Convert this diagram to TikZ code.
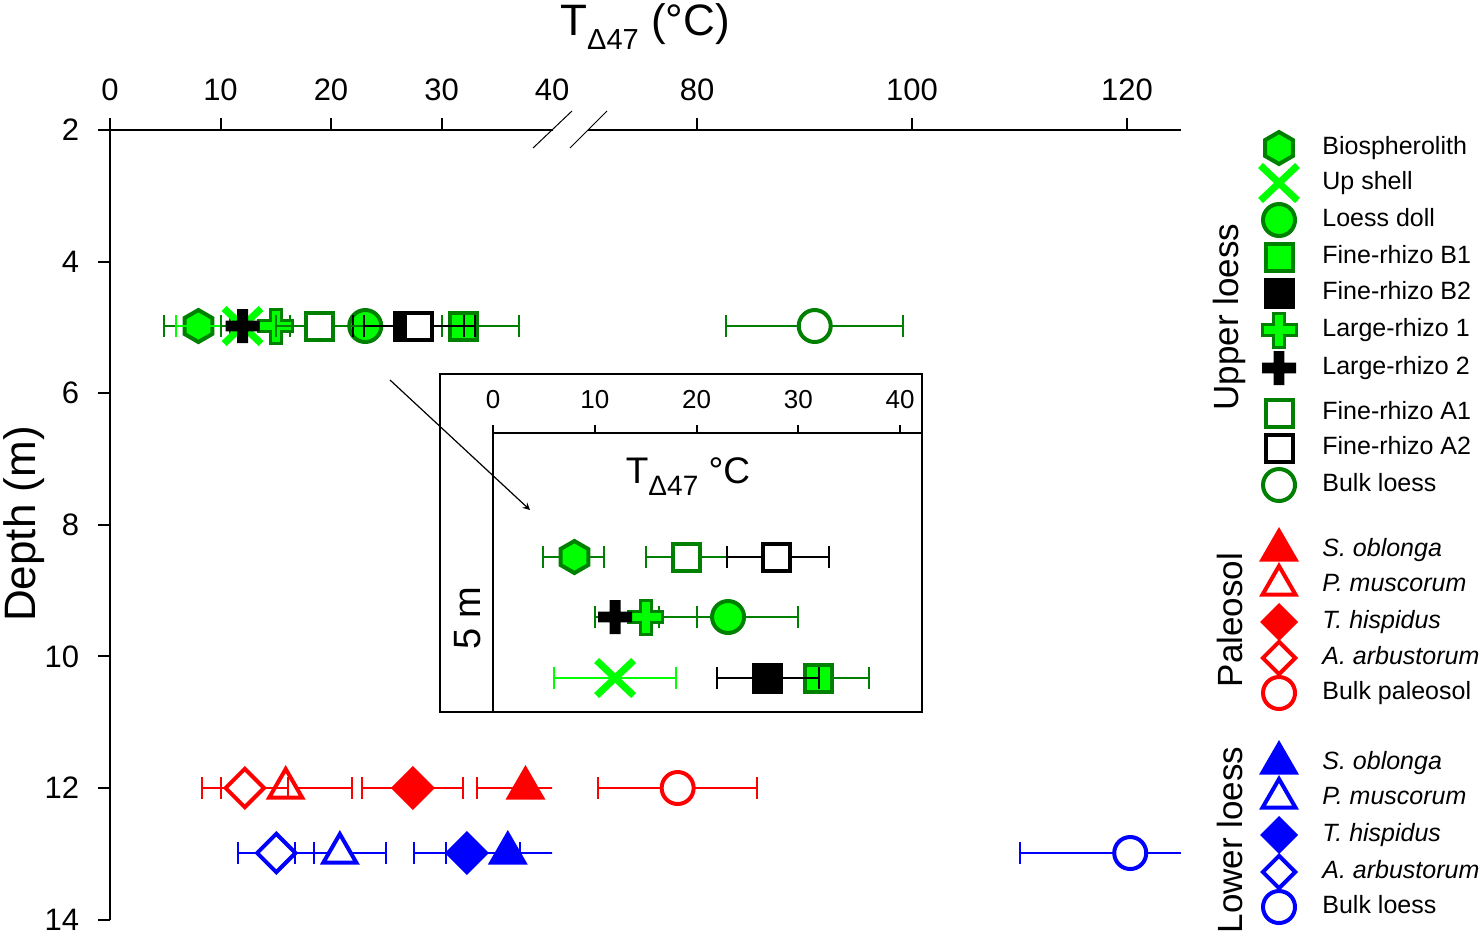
\documentclass[tikz,border=0pt]{standalone}
\usepackage{fontspec}
\setmainfont{Liberation Sans}
\usetikzlibrary{shapes.geometric, shapes.misc, arrows, positioning}
\definecolor{loessfill}{RGB}{0, 255, 0}
\definecolor{loessedge}{RGB}{0, 128, 0}
\definecolor{paleored}{RGB}{255, 0, 0}
\definecolor{lowerblue}{RGB}{0, 0, 255}
\tikzstyle{axisline} = [line width=1pt, black]
\tikzstyle{errline} = [line width=1pt]
\tikzstyle{symb} = [inner sep=0pt, line width=2pt]
\tikzstyle{hexa} = [symb, regular polygon, regular polygon sides=6, shape border rotate=30, minimum size=16pt, draw=loessedge, fill=loessfill]
\tikzstyle{disc} = [symb, circle, minimum size=16pt]
\tikzstyle{sqr} = [symb, rectangle, minimum size=13.5pt]
\tikzstyle{dmd} = [symb, diamond, minimum size=20pt]
\tikzstyle{tri} = [symb, regular polygon, regular polygon sides=3, minimum size=19pt]
\tikzstyle{upx} = [cross out, draw=loessfill, line width=3.5pt, minimum width=15pt, minimum height=14pt, inner sep=0pt]
\tikzstyle{legtext} = [anchor=west, text height=1.6ex, text depth=0.3ex, inner sep=0pt]
\tikzstyle{grouplabel} = [rotate=90, font=\fontsize{17.5}{20}\selectfont]
\tikzset{pluss/.pic={\path[pic actions] (-8.5pt,-2.7pt) -- (-2.7pt,-2.7pt) -- (-2.7pt,-8.5pt) -- (2.7pt,-8.5pt) -- (2.7pt,-2.7pt) -- (8.5pt,-2.7pt) -- (8.5pt,2.7pt) -- (2.7pt,2.7pt) -- (2.7pt,8.5pt) -- (-2.7pt,8.5pt) -- (-2.7pt,2.7pt) -- (-8.5pt,2.7pt) -- cycle;}}
% error bar: colour, low, high, row (px)
\newcommand{\errbar}[4]{\draw[errline, #1] (#2,#4) -- (#3,#4) (#2,#4-11) -- (#2,#4+11) (#3,#4-11) -- (#3,#4+11);}
\newcommand{\tickfont}{\fontsize{15.5}{18}\selectfont}

\begin{document}
\begin{tikzpicture}[x=0.5pt, y=-0.5pt, font=\fontsize{12.5}{15}\selectfont]
\useasboundingbox (0,0) rectangle (1481,933);

% Axes
\draw[axisline] (110,118) -- (110,920);
\draw[axisline] (110,130) -- (553,130);
\draw[axisline] (588,130) -- (1181,130);
\draw[line width=0.5pt] (533,148) -- (572,111) (570,148) -- (607,111);
\foreach \d in {2,4,...,14}
  \draw[axisline] (110,{130+65.8*(\d-2)}) -- (98,{130+65.8*(\d-2)}) node[anchor=east, inner sep=0pt, xshift=-9pt, font=\tickfont] (dtick\d) {\d};
\node[rotate=90, font=\fontsize{22}{26}\selectfont] (depthlabel) at (24,524) {Depth (m)};
\node[anchor=base, font=\fontsize{22}{26}\selectfont] (ttitle) at (645,35) {T\raisebox{-7pt}{\fontsize{14.5}{15}\selectfont Δ47} (°C)};

% Left part, 0 to 40
\begin{scope}[shift={(110,0)}, x=5.525pt]
\foreach \t in {0,10,20,30}
  \draw[axisline] (\t,130) -- (\t,118);
\foreach \t in {0,10,20,30,40}
  \node[anchor=base, font=\tickfont] (ttick\t) at (\t,100) {\t};
\clip (0,100) rectangle (40,933);
% Upper loess
\errbar{loessedge}{4.9}{10.9}{326}
\node[hexa] (bio) at (8,326) {};
\errbar{loessfill}{6}{18}{326}
\node[upx] (upshell) at (12,326) {};
\errbar{loessedge}{16.3}{30}{326}
\node[disc, draw=loessedge, fill=loessfill] (doll) at (23.1,326) {};
\errbar{loessedge}{27}{37}{326}
\node[sqr, draw=loessedge, fill=loessfill] (frbone) at (32,326) {};
\errbar{black}{22}{32}{326}
\node[sqr, draw=black, fill=black] (frbtwo) at (27,326) {};
\errbar{loessedge}{10}{20}{326}
\pic[draw=loessedge, fill=loessfill, line width=1.5pt] at (15,326) {pluss};
\errbar{black}{11.6}{12.4}{326}
\pic[fill=black] at (12,326) {pluss};
\errbar{loessedge}{15}{23}{326}
\node[sqr, draw=loessedge, fill=white] (fraone) at (19,326) {};
\errbar{black}{23}{33}{326}
\node[sqr, draw=black, fill=white] (fratwo) at (27.9,326) {};
% Paleosol
\errbar{paleored}{33.2}{42}{788}
\node[tri, draw=paleored, fill=paleored] (sopal) at (37.6,788) {};
\errbar{paleored}{10}{21.9}{788}
\node[tri, draw=paleored, fill=white] (pmpal) at (15.9,788) {};
\errbar{paleored}{22.8}{31.9}{788}
\node[dmd, draw=paleored, fill=paleored] (thpal) at (27.4,788) {};
\errbar{paleored}{8.3}{16.1}{788}
\node[dmd, draw=paleored, fill=white] (aapal) at (12.2,788) {};
% Lower loess
\errbar{lowerblue}{30.4}{41.6}{853}
\node[tri, draw=lowerblue, fill=lowerblue] (solow) at (36,853) {};
\errbar{lowerblue}{16.7}{25}{853}
\node[tri, draw=lowerblue, fill=white] (pmlow) at (20.8,853) {};
\errbar{lowerblue}{27.5}{37.1}{853}
\node[dmd, draw=lowerblue, fill=lowerblue] (thlow) at (32.3,853) {};
\errbar{lowerblue}{11.6}{18.5}{853}
\node[dmd, draw=lowerblue, fill=white] (aalow) at (15.05,853) {};
\end{scope}

% Right part, 70 to 125
\begin{scope}[shift={(-163,0)}, x=5.375pt]
\foreach \t in {80,100,120} {
  \draw[axisline] (\t,130) -- (\t,118);
  \node[anchor=base, font=\tickfont] (ttick\t) at (\t,100) {\t};
}
\clip (69,100) rectangle (125,933);
\errbar{loessedge}{82.7}{99.2}{326}
\node[disc, draw=loessedge, fill=white] (bulkup) at (90.95,326) {};
\errbar{paleored}{70.8}{85.6}{788}
\node[disc, draw=paleored, fill=white] (bulkpal) at (78.2,788) {};
\errbar{lowerblue}{110}{130}{853}
\node[disc, draw=lowerblue, fill=white] (bulklow) at (120.3,853) {};
\end{scope}

% Inset at 5 m
\draw[line width=1pt, fill=white] (440,374) rectangle (922,712);
\coordinate (zoomfrom) at (390,380);
\coordinate (zoomto) at (530,510);
\draw[->, >=stealth, line width=0.6pt] (zoomfrom) -- (zoomto);
\draw[axisline] (493,425) -- (493,712);
\draw[axisline] (493,433) -- (922,433);
\node[anchor=base, font=\fontsize{18.5}{22}\selectfont] (insettitle) at (688,483) {T\raisebox{-6pt}{\fontsize{14}{14}\selectfont Δ47} °C};
\node[rotate=90, font=\fontsize{19}{22}\selectfont] (fivem) at (468,618) {5 m};
\begin{scope}[shift={(493,0)}, x=5.0875pt]
\foreach \t in {0,10,20,30,40} {
  \draw[axisline] (\t,433) -- (\t,425);
  \node[anchor=base, font=\fontsize{13}{16}\selectfont] (itick\t) at (\t,408) {\t};
}
\errbar{loessedge}{4.9}{10.9}{557}
\node[hexa] (bioin) at (8,557) {};
\errbar{loessfill}{6}{18}{678}
\node[upx] (upshellin) at (12,678) {};
\errbar{loessedge}{16.3}{30}{617}
\node[disc, draw=loessedge, fill=loessfill] (dollin) at (23.1,617) {};
\errbar{loessedge}{27}{37}{678}
\node[sqr, draw=loessedge, fill=loessfill] (frbonein) at (32,678) {};
\errbar{black}{22}{32}{678}
\node[sqr, draw=black, fill=black] (frbtwoin) at (27,678) {};
\errbar{loessedge}{10}{20}{617}
\pic[draw=loessedge, fill=loessfill, line width=1.5pt] at (15,617) {pluss};
\errbar{black}{11.6}{12.4}{617}
\pic[fill=black] at (12,617) {pluss};
\errbar{loessedge}{15}{23}{557}
\node[sqr, draw=loessedge, fill=white] (fraonein) at (19,557) {};
\errbar{black}{23}{33}{557}
\node[sqr, draw=black, fill=white] (fratwoin) at (27.9,557) {};
\end{scope}

% Legend
\node[grouplabel] (upperlab) at (1229,317) {Upper loess};
\node[grouplabel] (paleolab) at (1230,620) {Paleosol};
\node[grouplabel] (lowerlab) at (1230,840) {Lower loess};
\node[hexa] (lgbio) at (1279,148) {};
\node[legtext] (tbio) at (1322,148) {Biospherolith};
\node[upx] (lgup) at (1279,183) {};
\node[legtext] (tup) at (1322,183) {Up shell};
\node[disc, draw=loessedge, fill=loessfill] (lgdoll) at (1279,220) {};
\node[legtext] (tdoll) at (1322,220) {Loess doll};
\node[sqr, draw=loessedge, fill=loessfill] (lgbone) at (1279,257) {};
\node[legtext] (tbone) at (1322,257) {Fine-rhizo B1};
\node[sqr, draw=black, fill=black] (lgbtwo) at (1279,293) {};
\node[legtext] (tbtwo) at (1322,293) {Fine-rhizo B2};
\pic[draw=loessedge, fill=loessfill, line width=1.5pt] at (1279,330) {pluss};
\node[legtext] (tlone) at (1322,330) {Large-rhizo 1};
\pic[fill=black] at (1279,368) {pluss};
\node[legtext] (tltwo) at (1322,368) {Large-rhizo 2};
\node[sqr, draw=loessedge, fill=white] (lgaone) at (1279,413) {};
\node[legtext] (taone) at (1322,413) {Fine-rhizo A1};
\node[sqr, draw=black, fill=white] (lgatwo) at (1279,448) {};
\node[legtext] (tatwo) at (1322,448) {Fine-rhizo A2};
\node[disc, draw=loessedge, fill=white] (lgbulkup) at (1279,485) {};
\node[legtext] (tbulkup) at (1322,485) {Bulk loess};

\node[tri, draw=paleored, fill=paleored] (lgsopal) at (1279,550) {};
\node[legtext] (tsopal) at (1322,550) {\textit{S. oblonga}};
\node[tri, draw=paleored, fill=white] (lgpmpal) at (1279,585) {};
\node[legtext] (tpmpal) at (1322,585) {\textit{P. muscorum}};
\node[dmd, minimum size=17pt, draw=paleored, fill=paleored] (lgthpal) at (1279,622) {};
\node[legtext] (tthpal) at (1322,622) {\textit{T. hispidus}};
\node[dmd, minimum size=17pt, draw=paleored, fill=white] (lgaapal) at (1279,658) {};
\node[legtext] (taapal) at (1322,658) {\textit{A. arbustorum}};
\node[disc, draw=paleored, fill=white] (lgbulkpal) at (1279,693) {};
\node[legtext] (tbulkpal) at (1322,693) {Bulk paleosol};

\node[tri, draw=lowerblue, fill=lowerblue] (lgsolow) at (1279,763) {};
\node[legtext] (tsolow) at (1322,763) {\textit{S. oblonga}};
\node[tri, draw=lowerblue, fill=white] (lgpmlow) at (1279,798) {};
\node[legtext] (tpmlow) at (1322,798) {\textit{P. muscorum}};
\node[dmd, minimum size=17pt, draw=lowerblue, fill=lowerblue] (lgthlow) at (1279,835) {};
\node[legtext] (tthlow) at (1322,835) {\textit{T. hispidus}};
\node[dmd, minimum size=17pt, draw=lowerblue, fill=white] (lgaalow) at (1279,872) {};
\node[legtext] (taalow) at (1322,872) {\textit{A. arbustorum}};
\node[disc, draw=lowerblue, fill=white] (lgbulklow) at (1279,907) {};
\node[legtext] (tbulklow) at (1322,907) {Bulk loess};
\end{tikzpicture}
\end{document}
